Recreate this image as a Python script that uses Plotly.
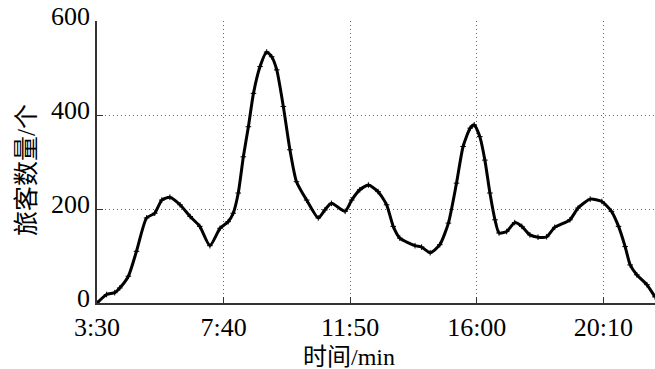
import plotly.graph_objects as go

# time in minutes since midnight, passenger counts
minutes = [210, 229, 245, 255, 272, 288, 308, 324, 338, 354, 374, 394, 413, 433,
           453, 469, 479, 489, 499, 509, 519, 532, 545, 555, 565, 578, 591, 604,
           624, 647, 660, 673, 700, 713, 729, 746, 765, 782, 795, 808, 838, 851,
           868, 887, 904, 920, 933, 947, 955, 966, 976, 986, 996, 1004, 1019,
           1035, 1049, 1065, 1081, 1098, 1114, 1144, 1160, 1184, 1207, 1226,
           1240, 1253, 1263, 1276, 1296, 1312]
passengers = [0, 18, 22, 32, 57, 110, 181, 191, 219, 225, 209, 184, 163, 122,
              159, 173, 191, 234, 311, 375, 446, 503, 534, 524, 496, 418, 326, 258,
              219, 181, 198, 212, 195, 219, 241, 251, 237, 209, 163, 138, 122, 119,
              107, 124, 170, 255, 333, 372, 379, 354, 304, 234, 177, 149, 152,
              171, 163, 145, 140, 141, 161, 177, 202, 221, 216, 195,
              163, 120, 81, 60, 39, 13]

tick_vals = [210, 460, 710, 960, 1210]
tick_text = ["3:30", "7:40", "11:50", "16:00", "20:10"]
y_ticks = [0, 200, 400, 600]

font_family = "Liberation Serif, Noto Sans CJK SC, serif"

fig = go.Figure()
fig.add_trace(go.Scatter(
    x=minutes, y=passengers, mode="lines+markers",
    line=dict(color="black", width=3, shape="spline", smoothing=0.6),
    marker=dict(symbol="cross-thin", size=4, color="black",
                line=dict(color="black", width=1)),
    showlegend=False,
))

fig.update_layout(
    width=655, height=369,
    margin=dict(l=97, r=0, t=21, b=66),
    paper_bgcolor="white", plot_bgcolor="white",
    font=dict(family=font_family, size=26, color="black"),
    xaxis=dict(
        range=[210, 1312], tickmode="array", tickvals=tick_vals, ticktext=tick_text,
        showgrid=True, gridcolor="#666666", griddash="1px,3px", gridwidth=1,
        showline=True, linecolor="#333333", linewidth=1.5,
        ticks="inside", ticklen=6, tickcolor="#333333",
        zeroline=False, tickfont=dict(size=26, family=font_family),
    ),
    yaxis=dict(
        range=[0, 600], tickmode="array", tickvals=y_ticks,
        showgrid=True, gridcolor="#666666", griddash="1px,3px", gridwidth=1,
        showline=True, linecolor="#333333", linewidth=1.5,
        ticks="inside", ticklen=6, tickcolor="#333333",
        zeroline=False, tickfont=dict(size=26, family=font_family),
        ticklabelshift=-5, ticklabelstandoff=0,
    ),
    annotations=[
        dict(text="时间/min", xref="paper", yref="paper",
             x=(349 - 97) / 558, y=-0.19, xanchor="center", yanchor="middle",
             showarrow=False, font=dict(size=24, family=font_family)),
        dict(text="旅客数量/个", xref="paper", yref="paper",
             x=(27 - 97) / 558, y=(303.3 - 170) / 282.6, xanchor="center", yanchor="middle",
             textangle=-90, showarrow=False, font=dict(size=25, family=font_family)),
    ],
)

fig.write_html("out.html")
